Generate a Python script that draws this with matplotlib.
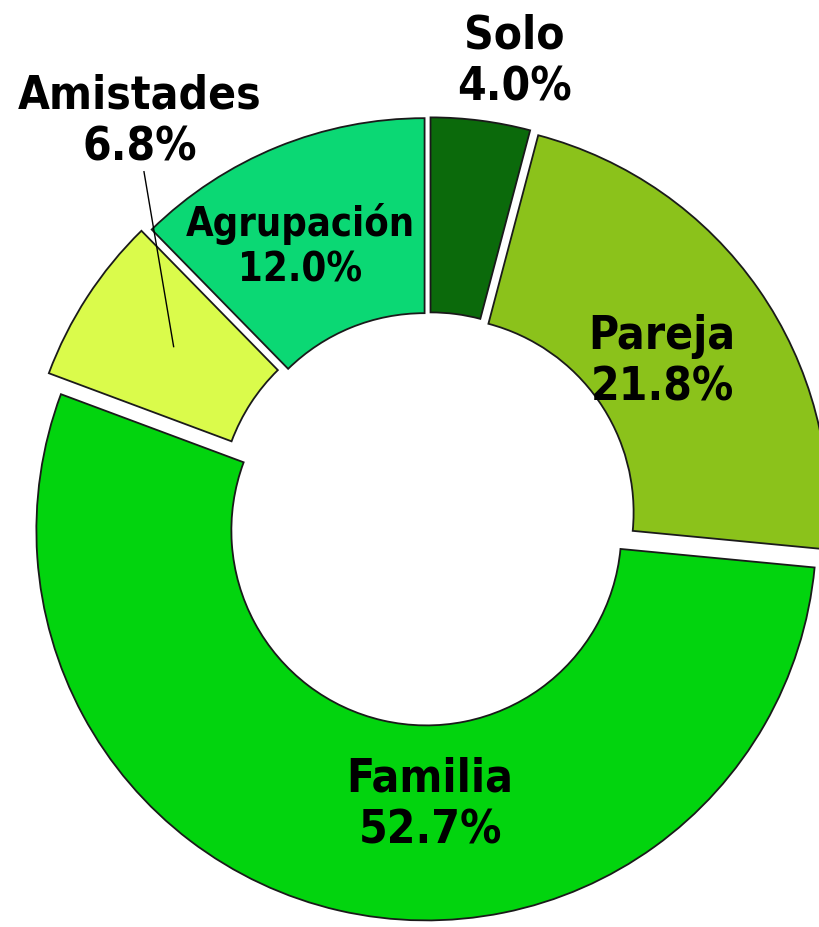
# Grafico de dona: con quien viaja
import numpy as np
import matplotlib.pyplot as plt
from matplotlib import font_manager

# datos
Categorias = ["Solo", "Pareja", "Familia", "Amistades", "Agrupación"]
Porcentajes = [4.0, 21.8, 52.7, 6.8, 12.0]
Colores = ["#0b6a0b", "#8bc21b", "#02d40e", "#dafb4b", "#0bd874"]
Separacion = [0.03, 0.03, 0.03, 0.045, 0.03]

# fuente angosta si existe
Fuente = font_manager.FontProperties(family="DejaVu Sans", stretch="condensed", weight="bold")
Ruta = font_manager.findfont(Fuente)
Angosta = "Condensed" in Ruta

# crear figura
fig = plt.figure(figsize=(8.19, 9.28), dpi=100)
ax = fig.add_axes([0, 0, 1, 1])

Cunas, _ = ax.pie(
    Porcentajes,
    colors=Colores,
    explode=Separacion,
    startangle=90,
    counterclock=False,
    radius=1.0,
    wedgeprops=dict(width=0.5, edgecolor="#1a1a1a", linewidth=1.3),
)

# etiquetas: (radio, ajuste de angulo) por categoria
Ajustes = {
    "Solo": (1.195, -3.2),
    "Pareja": (0.722, -0.8),
    "Familia": (0.73, 13.2),
    "Amistades": (1.261, -21.0),
    "Agrupación": (0.774, 3.0),
}

for Cuna, Nombre, Valor in zip(Cunas, Categorias, Porcentajes):
    Angulo = (Cuna.theta1 + Cuna.theta2) / 2
    Radio, Delta = Ajustes[Nombre]
    Ang = np.deg2rad(Angulo + Delta)
    Tx = Radio * np.cos(Ang)
    Ty = Radio * np.sin(Ang)
    Tam = 26 if Nombre == "Agrupación" else 30
    if Angosta:
        Tam = Tam * 1.1
    ax.text(
        Tx, Ty,
        f"{Nombre}\n{Valor:.1f}%",
        ha="center", va="center",
        fontsize=Tam, fontweight="bold",
        fontstretch="condensed" if Angosta else "normal",
        linespacing=1.2, color="black",
    )
    if Nombre == "Amistades":
        # linea guia
        Am = np.deg2rad(Angulo - 1.0)
        ax.plot(
            [Tx + 0.01, 0.79 * np.cos(Am)],
            [Ty - 0.13, 0.79 * np.sin(Am)],
            color="black", lw=1,
        )

# limites para ubicar la dona como en la imagen
ax.set_xlim(-429 / 390, (819 - 429) / 390)
ax.set_ylim(-(928 - 520) / 390, 520 / 390)
ax.set_aspect("equal")
ax.axis("off")

plt.savefig("out.png", dpi=100)
